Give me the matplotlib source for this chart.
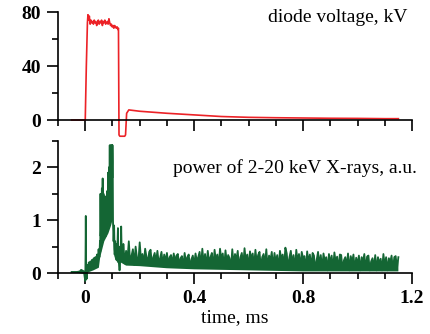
import numpy as np
import matplotlib
matplotlib.use("Agg")
from matplotlib import pyplot as plt
from matplotlib.ticker import MultipleLocator

# diode voltage, kV
red_t = [-0.05, 0.0, 0.004, 0.008, 0.01, 0.012, 0.015, 0.018, 0.021, 0.024, 0.027, 0.03,
         0.033, 0.036, 0.039, 0.042, 0.045, 0.048, 0.051, 0.054, 0.057, 0.06, 0.063, 0.066,
         0.069, 0.072, 0.075, 0.078, 0.081, 0.084, 0.087, 0.09, 0.093, 0.096, 0.099, 0.102,
         0.105, 0.108, 0.111, 0.114, 0.117, 0.12, 0.122, 0.124, 0.127, 0.145, 0.148, 0.152,
         0.16, 0.2, 0.3, 0.4, 0.5, 0.6, 0.7, 0.8, 0.9, 1.0, 1.1, 1.15]
red_v = [0, 0, 40, 72, 78, 74, 77, 71, 74, 72, 73, 71,
         74, 72, 73, 70, 72, 74, 71, 73, 72, 74, 70, 73,
         72, 74, 71, 72, 73, 71, 75, 72, 70, 71, 69, 70,
         68, 70, 69, 68, 69, 67, 68, -11, -12, -12, -11, 5,
         7.5, 6.5, 5, 3.8, 2.6, 2.0, 1.7, 1.5, 1.3, 1.2, 1.0, 1.0]

# X-ray power, early part (non-uniform samples)
green_t = [-0.05, -0.03, -0.02, -0.015, -0.005, 0.0, 0.001, 0.002, 0.003, 0.004, 0.005,
           0.006, 0.008, 0.010, 0.013, 0.016, 0.019, 0.022, 0.025, 0.028, 0.031, 0.034,
           0.037, 0.040, 0.043, 0.046, 0.049, 0.052, 0.054, 0.055, 0.056, 0.057, 0.058,
           0.059, 0.060, 0.061, 0.062, 0.063, 0.064, 0.065, 0.066, 0.067, 0.068, 0.069,
           0.070, 0.071, 0.072, 0.073, 0.074, 0.075, 0.076, 0.077, 0.078, 0.079, 0.080,
           0.081, 0.082, 0.083, 0.084, 0.085, 0.086, 0.087, 0.088, 0.089, 0.090, 0.091,
           0.092, 0.093, 0.094, 0.095, 0.096, 0.097, 0.098, 0.099, 0.100, 0.101, 0.102,
           0.104, 0.106, 0.108, 0.110, 0.112, 0.114, 0.116, 0.118, 0.120, 0.122, 0.124,
           0.126, 0.128, 0.130, 0.132, 0.134, 0.136, 0.138]
green_v = [0.02, 0.02, 0.03, 0.06, 0.03, -0.15, 0.3, 1.08, 0.2, -0.12, 0.1,
           -0.1, 0.15, 0.05, 0.2, 0.08, 0.22, 0.12, 0.25, 0.15, 0.28, 0.18,
           0.3, 0.22, 0.35, 0.25, 0.45, 0.3, 0.6, 0.4, 1.5, 0.7, 0.9,
           1.45, 0.8, 1.6, 1.0, 1.3, 1.79, 0.9, 1.1, 1.5, 0.8, 1.4,
           0.9, 1.3, 0.75, 1.45, 1.0, 1.2, 0.7, 1.3, 0.75, 1.1, 1.55,
           0.9, 1.3, 1.1, 1.9, 1.2, 1.5, 2.0, 1.4, 1.8, 2.42, 1.6, 2.2,
           1.8, 2.42, 1.7, 2.3, 2.0, 2.42, 1.8, 2.42, 2.1, 1.0,
           0.6, 0.9, 0.35, 0.6, 0.3, 0.55, 0.25, 0.45, 0.85, 0.2, 0.45,
           0.05, 0.5, 0.3, 0.88, 0.35, 0.5, 0.3]

# X-ray power, tail sampled every 0.005 ms from 0.14 to 1.15 ms
green_tail = [
    0.55, 0.18, 0.42, 0.25, 0.6, 0.2, 0.32, 0.45, 0.15, 0.5, 0.28, 0.2, 0.58, 0.24, 0.36, 0.18, 0.46, 0.3, 0.22, 0.4,
    0.44, 0.16, 0.3, 0.38, 0.2, 0.42, 0.18, 0.28, 0.4, 0.15, 0.35, 0.22, 0.38, 0.16, 0.3, 0.34, 0.17, 0.37, 0.22, 0.33,
    0.36, 0.14, 0.28, 0.32, 0.12, 0.38, 0.2, 0.3, 0.35, 0.1, 0.26, 0.33, 0.15, 0.37, 0.22, 0.3, 0.4, 0.12, 0.46, 0.18,
    0.36, 0.12, 0.42, 0.2, 0.3, 0.38, 0.1, 0.44, 0.22, 0.35, 0.12, 0.46, 0.25, 0.37, 0.1, 0.43, 0.2, 0.34, 0.28, 0.08,
    0.45, 0.15, 0.36, 0.24, 0.42, 0.08, 0.3, 0.38, 0.14, 0.47, 0.22, 0.35, 0.1, 0.41, 0.26, 0.37, 0.12, 0.44, 0.2, 0.34,
    0.4, 0.1, 0.3, 0.36, 0.16, 0.45, 0.08, 0.33, 0.24, 0.4, 0.1, 0.38, 0.2, 0.34, 0.07, 0.42, 0.26, 0.35, 0.12, 0.48,
    0.37, 0.08, 0.3, 0.42, 0.18, 0.34, 0.06, 0.44, 0.22, 0.36, 0.1, 0.4, 0.28, 0.32, 0.06, 0.41, 0.2, 0.35, 0.1, 0.38,
    0.33, 0.06, 0.25, 0.4, 0.15, 0.34, 0.08, 0.37, 0.22, 0.3, 0.05, 0.36, 0.18, 0.33, 0.07, 0.39, 0.2, 0.31, 0.06, 0.35,
    0.34, 0.06, 0.24, 0.3, 0.12, 0.37, 0.05, 0.32, 0.2, 0.35, 0.06, 0.29, 0.16, 0.33, 0.05, 0.3, 0.22, 0.36, 0.06, 0.31,
    0.33, 0.05, 0.22, 0.28, 0.1, 0.34, 0.05, 0.3, 0.18, 0.27, 0.05, 0.36, 0.14, 0.3, 0.05, 0.28, 0.2, 0.33, 0.06, 0.3,
    0.32, 0.1, 0.3,
]
tail_start, tail_end = 0.14, 1.15

# lower edge of the dense noise band (the trace is sampled far finer than a pixel)
band_t = [-0.05, 0.0, 0.005, 0.03, 0.05, 0.055, 0.07, 0.085, 0.095, 0.1, 0.104, 0.11,
          0.12, 0.126, 0.13, 0.15, 0.2, 0.3, 0.4, 0.5, 0.6, 0.7, 0.8, 0.9, 1.0, 1.15]
band_lo = [0.02, -0.02, 0.0, 0.05, 0.1, 0.3, 0.6, 0.75, 0.9, 1.0, 0.45, 0.25,
           0.2, 0.05, 0.2, 0.14, 0.13, 0.09, 0.07, 0.06, 0.05, 0.04, 0.03, 0.03, 0.03, 0.03]

RED = "#ec2227"
GREEN = "#146634"

plt.rcParams["font.family"] = ["Liberation Serif", "DejaVu Serif"]
plt.rcParams["font.size"] = 14

fig = plt.figure(figsize=(4.31, 3.34), dpi=100)
ax_top = fig.add_axes([0.1346, 0.580, 0.8213, 0.384])
ax_bot = fig.add_axes([0.1346, 0.151, 0.8213, 0.427])
ax_top.patch.set_alpha(0)
ax_bot.patch.set_alpha(0)

ax_top.plot(red_t, red_v, color=RED, lw=1.2)

tail_t = np.linspace(tail_start, tail_end, len(green_tail))
trace_t = list(green_t) + list(tail_t)
trace_v = list(green_v) + list(green_tail)
ax_bot.fill(trace_t + band_t[::-1], trace_v + band_lo[::-1], color=GREEN, lw=0)
ax_bot.plot(trace_t, trace_v, color=GREEN, lw=1.3)

for ax in (ax_top, ax_bot):
    ax.set_xlim(-0.1, 1.2)
    ax.spines["top"].set_visible(False)
    ax.spines["right"].set_visible(False)
    ax.spines["bottom"].set_position(("data", 0))
    for s in ("left", "bottom"):
        ax.spines[s].set_linewidth(1.2)
    ax.xaxis.set_major_locator(MultipleLocator(0.4))
    ax.xaxis.set_minor_locator(MultipleLocator(0.1))
    ax.tick_params(which="major", direction="out", length=8, width=1.2, pad=4)
    ax.tick_params(which="minor", direction="out", length=4, width=1.2)

ax_top.set_ylim(-15, 80)
ax_top.spines["left"].set_bounds(0, 80)
ax_top.yaxis.set_minor_locator(MultipleLocator(20))
ax_top.set_yticks([0, 40, 80])
ax_top.set_yticklabels(["0", "40", "80"], fontweight="bold")
ax_top.tick_params(axis="x", labelbottom=False)

ax_bot.set_ylim(-0.2, 2.5)
ax_bot.spines["left"].set_bounds(0, 2.5)
ax_bot.yaxis.set_minor_locator(MultipleLocator(0.5))
ax_bot.set_xticks([0, 0.4, 0.8, 1.2])
ax_bot.set_xticklabels(["0", "0.4", "0.8", "1.2"], fontweight="bold")
ax_bot.set_yticks([0, 1, 2])
ax_bot.set_yticklabels(["0", "1", "2"], fontweight="bold")
ax_bot.set_xlabel("time, ms", labelpad=2)

fig.text(408 / 431, 1 - 17 / 334, "diode voltage, kV", ha="right", va="center")
fig.text(417 / 431, 1 - 168 / 334, "power of 2-20 keV X-rays, a.u.", ha="right", va="center")

fig.savefig("out.png", dpi=100)
